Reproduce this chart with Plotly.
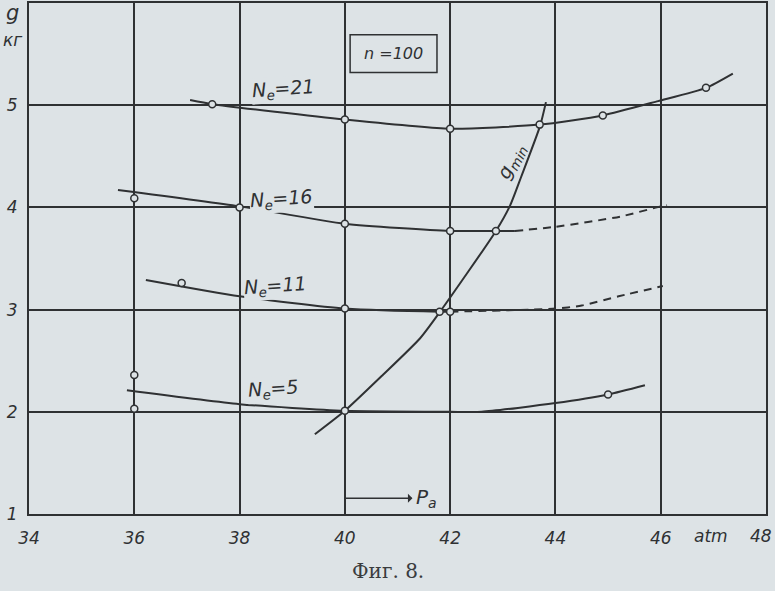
import plotly.graph_objects as go

PAPER = '#dde3e6'
INK = '#2f3133'

# кривые g(P_a) при n=100
ne21_x = [37.06, 37.48, 40.0, 42.0, 43.7, 44.9, 45.95, 46.86, 47.37]
ne21_y = [5.05, 5.01, 4.86, 4.77, 4.81, 4.90, 5.04, 5.17, 5.31]
ne21_px = [37.48, 40.0, 42.0, 43.7, 44.9, 46.86]
ne21_py = [5.01, 4.86, 4.77, 4.81, 4.90, 5.17]

ne16_x = [35.69, 38.0, 40.0, 42.0, 42.87, 43.23]
ne16_y = [4.17, 4.01, 3.84, 3.77, 3.77, 3.77]
ne16_dash_x = [43.23, 44.0, 45.23, 46.0, 46.12]
ne16_dash_y = [3.77, 3.81, 3.91, 4.01, 4.02]
ne16_px = [36.0, 38.0, 40.0, 42.0, 42.87]
ne16_py = [4.09, 4.0, 3.84, 3.77, 3.77]

ne11_x = [36.22, 38.0, 40.0, 41.8, 42.0]
ne11_y = [3.29, 3.13, 3.01, 2.98, 2.98]
ne11_dash_x = [42.0, 44.0, 44.5, 45.2, 46.04]
ne11_dash_y = [2.98, 3.01, 3.04, 3.13, 3.23]
ne11_px = [36.9, 40.0, 41.8, 42.0]
ne11_py = [3.26, 3.01, 2.98, 2.98]

ne5_x = [35.86, 38.0, 40.0, 42.0, 42.6, 44.0, 45.0, 45.7]
ne5_y = [2.21, 2.075, 2.01, 2.0, 2.0, 2.085, 2.17, 2.26]
ne5_px = [36.0, 36.0, 40.0, 45.0]
ne5_py = [2.36, 2.03, 2.01, 2.17]

gmin_x = [39.43, 40.0, 40.72, 41.43, 41.81, 42.87, 43.14, 43.35, 43.71, 43.82]
gmin_y = [1.78, 2.01, 2.36, 2.72, 2.98, 3.77, 4.02, 4.30, 4.80, 5.03]

x_ticks = [34, 36, 38, 40, 42, 44, 46, 48]
y_ticks = [1, 2, 3, 4, 5]

fig = go.Figure()


def add_line(x, y, dash='solid'):
    fig.add_trace(go.Scatter(
        x=x, y=y, mode='lines',
        line=dict(color=INK, width=2, shape='spline', smoothing=0.6, dash=dash),
        hoverinfo='skip'
    ))


def add_points(x, y):
    fig.add_trace(go.Scatter(
        x=x, y=y, mode='markers',
        marker=dict(size=7, color=PAPER, line=dict(color=INK, width=1.5)),
        hoverinfo='skip'
    ))


add_line(ne21_x, ne21_y)
add_line(ne16_x, ne16_y)
add_line(ne16_dash_x, ne16_dash_y, dash='8px,6px')
add_line(ne11_x, ne11_y)
add_line(ne11_dash_x, ne11_dash_y, dash='8px,6px')
add_line(ne5_x, ne5_y)
add_line(gmin_x, gmin_y)

add_points(ne21_px, ne21_py)
add_points(ne16_px, ne16_py)
add_points(ne11_px, ne11_py)
add_points(ne5_px, ne5_py)

lab_font = dict(family='DejaVu Sans', size=19, color=INK, style='italic')

# подписи кривых
for txt, x, y in [('N<sub>e</sub>=21', 38.83, 5.15),
                  ('N<sub>e</sub>=16', 38.79, 4.08),
                  ('N<sub>e</sub>=11', 38.69, 3.23),
                  ('N<sub>e</sub>=5', 38.64, 2.22)]:
    fig.add_annotation(x=x, y=y, text=txt, showarrow=False, font=lab_font,
                       bgcolor=PAPER, textangle=-4, borderpad=0)

fig.add_annotation(x=43.17, y=4.45, text='g<sub>min</sub>', showarrow=False,
                   font=lab_font, textangle=-62)

# рамка n=100
fig.add_shape(type='rect', x0=40.1, x1=41.75, y0=5.32, y1=5.69,
              line=dict(color=INK, width=1.5), fillcolor=PAPER)
fig.add_annotation(x=40.92, y=5.505, text='n =100', showarrow=False,
                   font=dict(family='DejaVu Sans', size=16, color=INK, style='italic'))

# стрелка P_a (наконечник у подписи)
fig.add_annotation(x=40.0, y=1.155, ax=41.55, ay=1.155, xref='x', yref='y',
                   axref='x', ayref='y', showarrow=True, arrowhead=2,
                   arrowside='start', arrowsize=1, arrowwidth=1.5,
                   arrowcolor=INK, standoff=0, startstandoff=2,
                   text='P<sub>a</sub>',
                   font=dict(family='DejaVu Sans', size=20, color=INK, style='italic'))

# подписи осей
fig.add_annotation(xref='paper', yref='paper', x=-0.023, y=0.98, text='g',
                   xanchor='center', yanchor='middle', showarrow=False,
                   font=dict(family='DejaVu Sans', size=21, color=INK, style='italic'))
fig.add_annotation(xref='paper', yref='paper', x=-0.023, y=0.928, text='кг',
                   xanchor='center', yanchor='middle', showarrow=False,
                   font=dict(family='DejaVu Sans', size=17, color=INK, style='italic'))
fig.add_annotation(xref='x', yref='paper', x=46.95, y=-0.043, text='atm',
                   xanchor='center', yanchor='middle', showarrow=False,
                   font=dict(family='DejaVu Sans', size=17, color=INK, style='italic'))

tick_font = dict(family='DejaVu Sans', size=17, color=INK, style='italic')

# последняя метка 48 упирается в край - ставим её отдельно, прижатой вправо
x_ticktext = [str(v) for v in x_ticks[:-1]] + ['']
fig.add_annotation(xref='x', yref='paper', x=x_ticks[-1], y=-0.043, text=str(x_ticks[-1]),
                   xanchor='right', xshift=8, yanchor='middle', showarrow=False,
                   font=tick_font)

fig.add_annotation(xref='paper', yref='paper', x=0.487, y=-0.112, text='Фиг. 8.',
                   xanchor='center', yanchor='middle', showarrow=False,
                   font=dict(family='DejaVu Serif', size=20, color='#3a3c3e'))

fig.update_xaxes(range=[34, 48], tickvals=x_ticks, ticktext=x_ticktext,
                 showgrid=True, gridcolor=INK, gridwidth=1.5,
                 showline=True, linecolor=INK, linewidth=2, mirror=True,
                 ticks='', tickfont=tick_font, ticklabelstandoff=8, zeroline=False,
                 automargin=False)
fig.update_yaxes(range=[1, 6], tickvals=y_ticks, ticktext=[str(v) for v in y_ticks],
                 showgrid=True, gridcolor=INK, gridwidth=1.5,
                 showline=True, linecolor=INK, linewidth=2, mirror=True,
                 ticks='', tickfont=tick_font, ticklabelstandoff=6, zeroline=False,
                 automargin=False)

fig.update_layout(
    width=775, height=591,
    margin=dict(l=29, r=9, t=3, b=77),
    paper_bgcolor=PAPER, plot_bgcolor=PAPER,
    showlegend=False
)

# у body страницы отступ 8px по умолчанию - убираем
fig.write_html("out.html", config={'displayModeBar': False},
               post_script="document.body.style.margin='0';")
